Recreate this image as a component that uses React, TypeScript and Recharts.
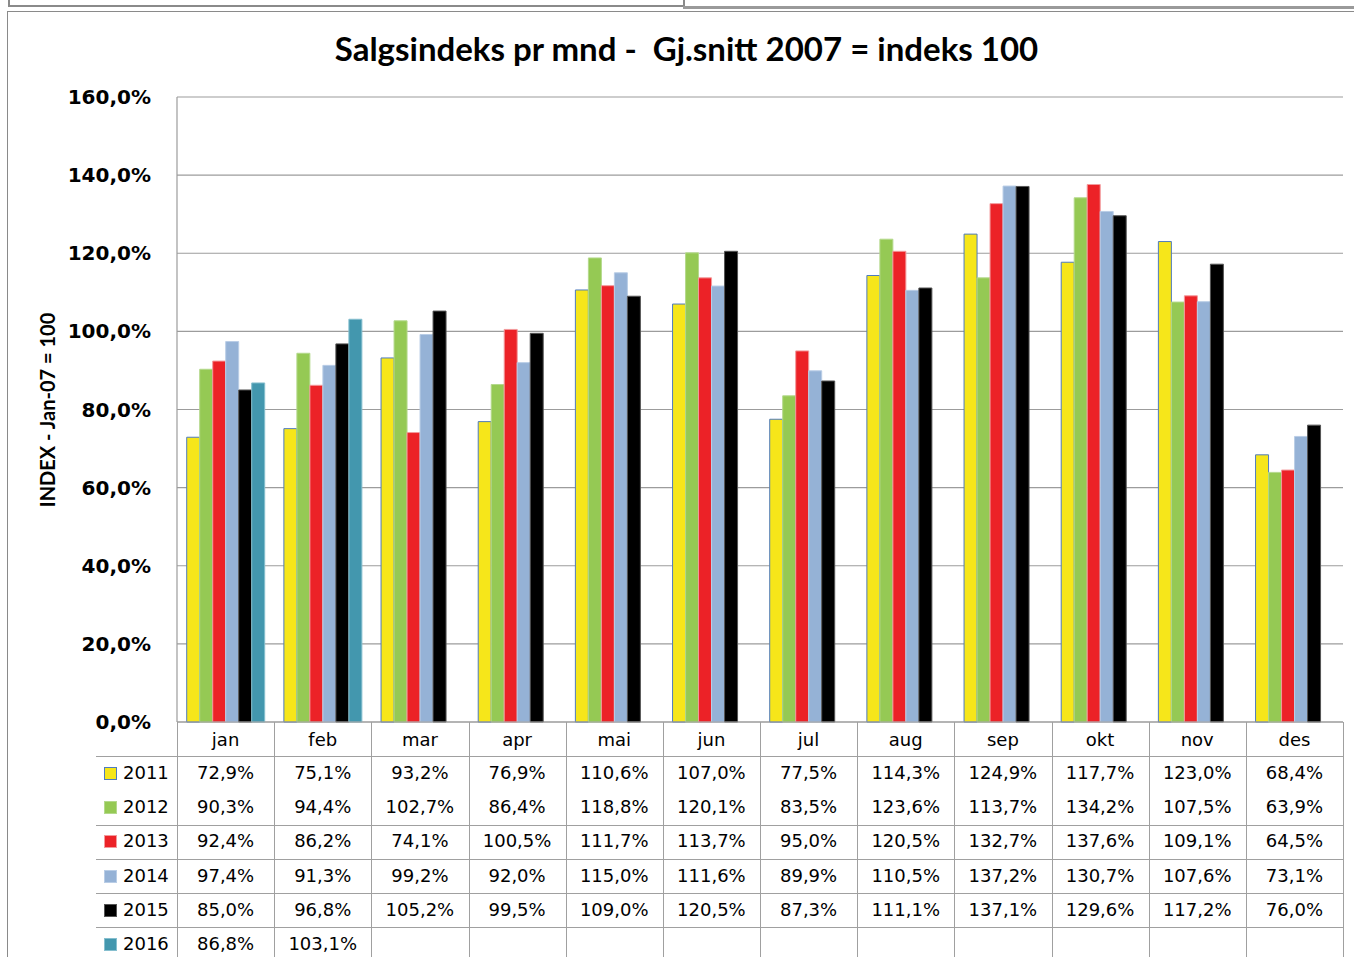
import React from 'react';
import { BarChart, Bar, XAxis, YAxis, CartesianGrid } from 'recharts';

const months = ['jan', 'feb', 'mar', 'apr', 'mai', 'jun', 'jul', 'aug', 'sep', 'okt', 'nov', 'des'];
const years = ['2011', '2012', '2013', '2014', '2015', '2016'];

const v2011 = [72.9, 75.1, 93.2, 76.9, 110.6, 107.0, 77.5, 114.3, 124.9, 117.7, 123.0, 68.4];
const v2012 = [90.3, 94.4, 102.7, 86.4, 118.8, 120.1, 83.5, 123.6, 113.7, 134.2, 107.5, 63.9];
const v2013 = [92.4, 86.2, 74.1, 100.5, 111.7, 113.7, 95.0, 120.5, 132.7, 137.6, 109.1, 64.5];
const v2014 = [97.4, 91.3, 99.2, 92.0, 115.0, 111.6, 89.9, 110.5, 137.2, 130.7, 107.6, 73.1];
const v2015 = [85.0, 96.8, 105.2, 99.5, 109.0, 120.5, 87.3, 111.1, 137.1, 129.6, 117.2, 76.0];
const v2016 = [86.8, 103.1, null, null, null, null, null, null, null, null, null, null];

const yTicks = [0, 20, 40, 60, 80, 100, 120, 140, 160];

const seriesValues = [v2011, v2012, v2013, v2014, v2015, v2016];
const fills = ['#F6E61A', '#95C954', '#EC2227', '#95B2D6', '#000000', '#4397AE'];
const strokes = ['#4F7BBE', '#B4D98C', '#F39A9C', '#B9CDE6', '#555555', '#86BFCF'];

const data = months.map((m, i) => {
    const row: Record<string, string | number | null> = { month: m };
    years.forEach((y, k) => {
        row[y] = seriesValues[k][i];
    });
    return row;
});

const fmt = (v: number | null) => (v == null ? '' : v.toFixed(1).replace('.', ',') + '%');

// plot geometry (page coords)
const W = 1354;
const H = 957;
const plotLeft = 177;
const plotRight = 1343;
const plotTop = 97;
const plotBottom = 722;
const xAxisH = 34;
const colW = (plotRight - plotLeft) / months.length;
const rowY = [773, 807, 841, 876, 910, 944];
const rowLines = [756, 825, 859, 893, 927];

const tableFont = '"DejaVu Sans", Verdana, sans-serif';

const MonthTick = (props: any) => (
    <text
        x={props.x}
        y={plotBottom + 17}
        textAnchor="middle"
        dominantBaseline="central"
        fontFamily={tableFont}
        fontSize={18}
        fill="#000"
    >
        {props.payload.value}
    </text>
);

export default function App() {
    return (
        <div style={{ position: 'absolute', left: 0, top: 0, width: W, height: H, overflow: 'hidden', background: '#fff' }}>
            {/* window frames */}
            <div style={{ position: 'absolute', left: 8, top: -4, width: 673, height: 9, borderLeft: '2px solid #8a8a8a', borderRight: '2px solid #8a8a8a', borderBottom: '2px solid #8a8a8a', background: '#fff' }} />
            <div style={{ position: 'absolute', left: 683, top: 6, width: W - 683, height: 3, background: '#9a9a9a' }} />
            <div style={{ position: 'absolute', left: 7, top: 11, width: W, height: H, borderLeft: '1px solid #8a8a8a', borderTop: '1px solid #8a8a8a' }} />

            <div
                style={{
                    position: 'absolute',
                    left: 316,
                    width: 741,
                    top: 28,
                    textAlign: 'center',
                    fontFamily: 'Lato, sans-serif',
                    fontWeight: 700,
                    fontSize: 33,
                    lineHeight: '40px',
                    color: '#000',
                    whiteSpace: 'pre',
                }}
            >
                {'Salgsindeks pr mnd -  Gj.snitt 2007 = indeks 100'}
            </div>

            <div
                style={{
                    position: 'absolute',
                    left: 47,
                    top: 410,
                    transform: 'translate(-50%, -50%) rotate(-90deg)',
                    fontFamily: 'Lato, sans-serif',
                    fontWeight: 700,
                    fontSize: 20,
                    whiteSpace: 'nowrap',
                    color: '#000',
                }}
            >
                INDEX - Jan-07 = 100
            </div>

            <div style={{ position: 'absolute', left: 0, top: 0 }}>
                <BarChart
                    width={W}
                    height={H}
                    data={data}
                    margin={{ top: plotTop, right: W - plotRight, bottom: H - plotBottom - xAxisH, left: 0 }}
                    barCategoryGap="10%"
                    barGap={0}
                >
                    <CartesianGrid vertical={false} stroke="#9c9c9c" strokeWidth={1.2} />
                    <YAxis
                        width={plotLeft}
                        domain={[0, 160]}
                        ticks={yTicks}
                        tickFormatter={(v: number) => fmt(v)}
                        tickLine={false}
                        tickSize={6}
                        tickMargin={20}
                        axisLine={{ stroke: '#9c9c9c', strokeWidth: 1.2 }}
                        tick={{ fill: '#000', fontSize: 20, fontWeight: 700, fontFamily: tableFont }}
                    />
                    <XAxis
                        dataKey="month"
                        height={xAxisH}
                        tickLine={false}
                        axisLine={{ stroke: '#9c9c9c', strokeWidth: 1.2 }}
                        tick={<MonthTick />}
                        interval={0}
                    />
                    {years.map((y, k) => (
                        <Bar
                            key={y}
                            dataKey={y}
                            fill={fills[k]}
                            stroke={strokes[k]}
                            strokeWidth={1}
                            isAnimationActive={false}
                        />
                    ))}
                </BarChart>
            </div>

            {/* data table */}
            {months.map((m, i) => (
                <div key={'v' + i} style={{ position: 'absolute', left: plotLeft + i * colW, top: plotBottom, width: 1, height: H - plotBottom, background: '#a0a0a0' }} />
            ))}
            <div style={{ position: 'absolute', left: plotRight, top: plotBottom, width: 1, height: H - plotBottom, background: '#a0a0a0' }} />
            {rowLines.map((y) => (
                <div key={'h' + y} style={{ position: 'absolute', left: 96, top: y, width: plotRight - 96, height: 1, background: '#a0a0a0' }} />
            ))}
            {years.map((y, k) => (
                <React.Fragment key={'r' + y}>
                    <div
                        style={{
                            position: 'absolute',
                            left: 104,
                            top: rowY[k] - 6,
                            width: 11,
                            height: 11,
                            background: fills[k],
                            border: k === 0 ? '1px solid #4F7BBE' : '1px solid ' + strokes[k],
                        }}
                    />
                    <div style={{ position: 'absolute', left: 123, top: rowY[k] - 12, fontFamily: tableFont, fontSize: 18, lineHeight: '24px', color: '#000' }}>{y}</div>
                    {seriesValues[k].map((v, i) => (
                        <div
                            key={i}
                            style={{
                                position: 'absolute',
                                left: plotLeft + i * colW,
                                width: colW,
                                top: rowY[k] - 12,
                                textAlign: 'center',
                                fontFamily: tableFont,
                                fontSize: 18,
                                lineHeight: '24px',
                                color: '#000',
                            }}
                        >
                            {fmt(v)}
                        </div>
                    ))}
                </React.Fragment>
            ))}
        </div>
    );
}
